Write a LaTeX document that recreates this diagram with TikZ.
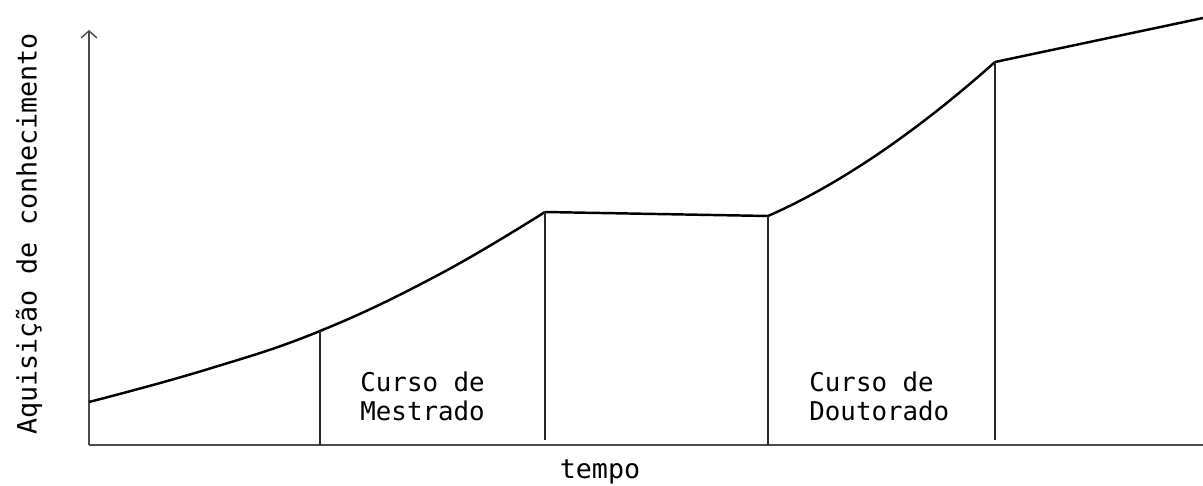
\documentclass[tikz,border=0pt]{standalone}
\usepackage{fontspec}
\newfontfamily\typewriter{DejaVu Sans Mono}
\usetikzlibrary{arrows.meta,positioning}
\tikzset{
	axis/.style={draw=black!70, line width=0.8pt},
	growth/.style={draw=black, line width=1.4pt},
	phase/.style={draw=black!85, line width=0.9pt},
	phaselabel/.style={font=\typewriter\fontsize{14.7}{16.5}\selectfont, align=left, anchor=west, inner sep=0pt},
	axislabel/.style={font=\typewriter\fontsize{15.2}{17}\selectfont, inner sep=0pt},
}

\begin{document}
\begin{tikzpicture}[x=0.02cm, y=-0.02cm]
	\useasboundingbox (0,0) rectangle (1203,486);
	% axes
	\coordinate (origin) at (89,445);
	\coordinate (ytop) at (89,30);
	\coordinate (xend) at (1203,445);
	\draw[axis,-{Straight Barb[length=4pt,width=9pt]}] (origin)--(ytop);
	\draw[axis] (origin)--(xend);
	% points of the curve
	\coordinate (start) at (89,402);
	\coordinate (mest) at (320,331);
	\coordinate (mestend) at (545,212);
	\coordinate (dout) at (768,216);
	\coordinate (doutend) at (995,62);
	\coordinate (finish) at (1203,18);
	\draw[growth] plot[smooth, tension=0.7] coordinates {(start) (205,370) (mest) (440,274) (mestend)};
	\draw[growth] (mestend)--(dout);
	\draw[growth] (dout) .. controls (850,180) and (930,120) .. (doutend);
	\draw[growth] (doutend)--(finish);
	% phases
	\draw[phase] (mest)--(mest |- origin);
	\draw[phase] (mestend)--(545,440);
	\draw[phase] (dout)--(dout |- origin);
	\draw[phase] (doutend)--(995,440);
	\node[phaselabel] (mestrado) at (360,396) {Curso de\\Mestrado};
	\node[phaselabel] (doutorado) at (809,396) {Curso de\\Doutorado};
	% labels of the axes
	\node[axislabel] (tempo) at (600,472) {tempo};
	\node[axislabel, rotate=90] (aquisicao) at (29,234) {Aquisição de conhecimento};
\end{tikzpicture}
\end{document}
